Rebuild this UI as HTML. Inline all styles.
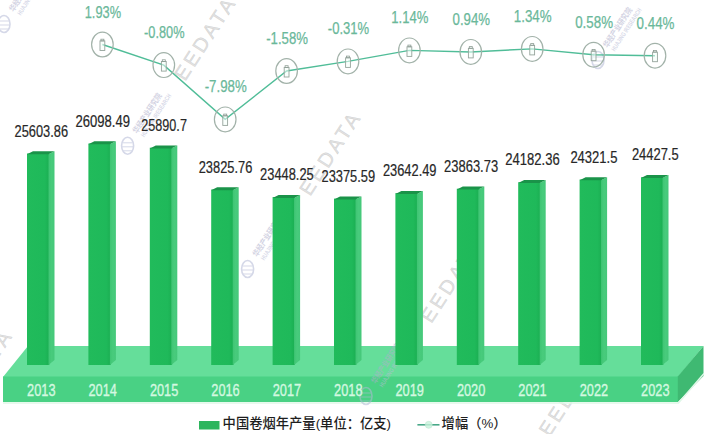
<!DOCTYPE html><html><head><meta charset="utf-8"><style>html,body{margin:0;padding:0;background:#fff;}svg{display:block;}.v{font-family:"Liberation Sans",sans-serif;font-size:15.8px;fill:#272727;stroke:#272727;stroke-width:0.2px;}.p{font-family:"Liberation Sans",sans-serif;font-size:16px;fill:#6ab89a;stroke:#6ab89a;stroke-width:0.25px;}.y{font-family:"Liberation Sans",sans-serif;font-size:16px;fill:#d4f8e0;stroke:#d4f8e0;stroke-width:0.35px;}.lg{font-family:"Liberation Sans","Noto Sans CJK SC",sans-serif;font-size:13.3px;font-weight:500;fill:#1e1e1e;}</style></head><body>
<svg width="705" height="434" viewBox="0 0 705 434">
<defs><linearGradient id="gf" x1="0" y1="0" x2="1" y2="0"><stop offset="0" stop-color="#21bb5b"/><stop offset="0.8" stop-color="#1fb95a"/><stop offset="1" stop-color="#1bae52"/></linearGradient><linearGradient id="gs" x1="0" y1="0" x2="1" y2="0"><stop offset="0" stop-color="#3ec473"/><stop offset="0.5" stop-color="#48cb7c"/><stop offset="1" stop-color="#45c87a"/></linearGradient></defs>
<text x="185.0" y="82.0" transform="rotate(-57 185.0 82.0)" style="font-family:'Liberation Sans',sans-serif;font-size:20px;letter-spacing:3.2px;fill:#a8a8a8;fill-opacity:0.36;stroke:#a8a8a8;stroke-opacity:0.36;stroke-width:0.5px">EEDATA</text>
<text x="310.0" y="196.9" transform="rotate(-57 310.0 196.9)" style="font-family:'Liberation Sans',sans-serif;font-size:20px;letter-spacing:3.2px;fill:#a8a8a8;fill-opacity:0.36;stroke:#a8a8a8;stroke-opacity:0.36;stroke-width:0.5px">EEDATA</text>
<text x="431.3" y="324.3" transform="rotate(-57 431.3 324.3)" style="font-family:'Liberation Sans',sans-serif;font-size:20px;letter-spacing:3.2px;fill:#a8a8a8;fill-opacity:0.36;stroke:#a8a8a8;stroke-opacity:0.36;stroke-width:0.5px">EEDATA</text>
<text x="549.5" y="437.5" transform="rotate(-57 549.5 437.5)" style="font-family:'Liberation Sans',sans-serif;font-size:20px;letter-spacing:3.2px;fill:#a8a8a8;fill-opacity:0.36;stroke:#a8a8a8;stroke-opacity:0.36;stroke-width:0.5px">EEDATA</text>
<text x="-38.5" y="415.0" transform="rotate(-57 -38.5 415.0)" style="font-family:'Liberation Sans',sans-serif;font-size:20px;letter-spacing:3.2px;fill:#a8a8a8;fill-opacity:0.36;stroke:#a8a8a8;stroke-opacity:0.36;stroke-width:0.5px">EEDATA</text>
<polygon points="3,377 678,377 703.5,346 28,346" fill="#65de9a"/>
<rect x="3" y="376.5" width="675" height="25.5" fill="#49d184"/>
<polygon points="677.8,376.5 703.5,346 703.5,376 677.8,402" fill="#3fb972"/>
<polyline points="3,403 678.5,403 704,373.5" fill="none" stroke="#dff7e8" stroke-width="1.5"/>
<g opacity="0.55"><ellipse cx="4.0" cy="24.0" rx="6" ry="8.5" fill="none" stroke="#b3b9d6" stroke-width="1.6"/><path d="M-1.0,21.0 h10 M-1.5,25.0 h11 M-0.5,29.0 h9" stroke="#b3b9d6" stroke-width="1"/><g transform="rotate(-57 4.0 24.0)"><text x="19.0" y="25.5" textLength="46" lengthAdjust="spacingAndGlyphs" style="font-family:'Noto Sans CJK SC',sans-serif;font-size:8px;font-weight:bold;fill:#b0b0cc">华经产业研究院</text><text x="20.0" y="33.5" textLength="50" lengthAdjust="spacingAndGlyphs" style="font-family:'Liberation Sans',sans-serif;font-size:6.5px;font-weight:bold;fill:#b8bcd6">HUAJING IRESEARCH</text></g></g>
<g opacity="0.55"><ellipse cx="127.6" cy="145.8" rx="6" ry="8.5" fill="none" stroke="#b3b9d6" stroke-width="1.6"/><path d="M122.6,142.8 h10 M122.1,146.8 h11 M123.1,150.8 h9" stroke="#b3b9d6" stroke-width="1"/><g transform="rotate(-57 127.6 145.8)"><text x="142.6" y="147.3" textLength="46" lengthAdjust="spacingAndGlyphs" style="font-family:'Noto Sans CJK SC',sans-serif;font-size:8px;font-weight:bold;fill:#b0b0cc">华经产业研究院</text><text x="143.6" y="155.3" textLength="50" lengthAdjust="spacingAndGlyphs" style="font-family:'Liberation Sans',sans-serif;font-size:6.5px;font-weight:bold;fill:#b8bcd6">HUAJING IRESEARCH</text></g></g>
<g opacity="0.55"><ellipse cx="247.6" cy="269.0" rx="6" ry="8.5" fill="none" stroke="#b3b9d6" stroke-width="1.6"/><path d="M242.6,266.0 h10 M242.1,270.0 h11 M243.1,274.0 h9" stroke="#b3b9d6" stroke-width="1"/><g transform="rotate(-57 247.6 269.0)"><text x="262.6" y="270.5" textLength="46" lengthAdjust="spacingAndGlyphs" style="font-family:'Noto Sans CJK SC',sans-serif;font-size:8px;font-weight:bold;fill:#b0b0cc">华经产业研究院</text><text x="263.6" y="278.5" textLength="50" lengthAdjust="spacingAndGlyphs" style="font-family:'Liberation Sans',sans-serif;font-size:6.5px;font-weight:bold;fill:#b8bcd6">HUAJING IRESEARCH</text></g></g>
<g opacity="0.55"><ellipse cx="366.0" cy="396.0" rx="6" ry="8.5" fill="none" stroke="#b3b9d6" stroke-width="1.6"/><path d="M361.0,393.0 h10 M360.5,397.0 h11 M361.5,401.0 h9" stroke="#b3b9d6" stroke-width="1"/><g transform="rotate(-57 366.0 396.0)"><text x="381.0" y="397.5" textLength="46" lengthAdjust="spacingAndGlyphs" style="font-family:'Noto Sans CJK SC',sans-serif;font-size:8px;font-weight:bold;fill:#b0b0cc">华经产业研究院</text><text x="382.0" y="405.5" textLength="50" lengthAdjust="spacingAndGlyphs" style="font-family:'Liberation Sans',sans-serif;font-size:6.5px;font-weight:bold;fill:#b8bcd6">HUAJING IRESEARCH</text></g></g>
<g opacity="0.55"><ellipse cx="598.0" cy="60.0" rx="6" ry="8.5" fill="none" stroke="#b3b9d6" stroke-width="1.6"/><path d="M593.0,57.0 h10 M592.5,61.0 h11 M593.5,65.0 h9" stroke="#b3b9d6" stroke-width="1"/><g transform="rotate(-57 598.0 60.0)"><text x="613.0" y="61.5" textLength="46" lengthAdjust="spacingAndGlyphs" style="font-family:'Noto Sans CJK SC',sans-serif;font-size:8px;font-weight:bold;fill:#b0b0cc">华经产业研究院</text><text x="614.0" y="69.5" textLength="50" lengthAdjust="spacingAndGlyphs" style="font-family:'Liberation Sans',sans-serif;font-size:6.5px;font-weight:bold;fill:#b8bcd6">HUAJING IRESEARCH</text></g></g>
<rect x="27.0" y="153.5" width="22.3" height="211.5" fill="url(#gf)"/>
<polygon points="48.5,154.3 54.5,151.3 54.5,360.0 48.5,365.0" fill="url(#gs)"/>
<polygon points="27.0,154.3 33.0,151.3 54.5,151.3 48.5,154.3" fill="#1a9349"/>
<text class="v" x="41.3" y="136.6" text-anchor="middle" textLength="53.5" lengthAdjust="spacingAndGlyphs">25603.86</text>
<text class="y" x="41.3" y="395.7" text-anchor="middle" textLength="28.4" lengthAdjust="spacingAndGlyphs">2013</text>
<rect x="88.4" y="143.5" width="22.3" height="221.5" fill="url(#gf)"/>
<polygon points="109.9,144.3 115.9,141.3 115.9,360.0 109.9,365.0" fill="url(#gs)"/>
<polygon points="88.4,144.3 94.4,141.3 115.9,141.3 109.9,144.3" fill="#1a9349"/>
<text class="v" x="102.7" y="126.6" text-anchor="middle" textLength="54.4" lengthAdjust="spacingAndGlyphs">26098.49</text>
<text class="y" x="102.7" y="395.7" text-anchor="middle" textLength="28.4" lengthAdjust="spacingAndGlyphs">2014</text>
<rect x="149.8" y="147.7" width="22.3" height="217.3" fill="url(#gf)"/>
<polygon points="171.3,148.5 177.3,145.5 177.3,360.0 171.3,365.0" fill="url(#gs)"/>
<polygon points="149.8,148.5 155.8,145.5 177.3,145.5 171.3,148.5" fill="#1a9349"/>
<text class="v" x="164.1" y="130.8" text-anchor="middle" textLength="45.6" lengthAdjust="spacingAndGlyphs">25890.7</text>
<text class="y" x="164.1" y="395.7" text-anchor="middle" textLength="28.4" lengthAdjust="spacingAndGlyphs">2015</text>
<rect x="211.2" y="189.5" width="22.3" height="175.5" fill="url(#gf)"/>
<polygon points="232.7,190.3 238.7,187.3 238.7,360.0 232.7,365.0" fill="url(#gs)"/>
<polygon points="211.2,190.3 217.2,187.3 238.7,187.3 232.7,190.3" fill="#1a9349"/>
<text class="v" x="225.5" y="172.6" text-anchor="middle" textLength="53.6" lengthAdjust="spacingAndGlyphs">23825.76</text>
<text class="y" x="225.5" y="395.7" text-anchor="middle" textLength="28.4" lengthAdjust="spacingAndGlyphs">2016</text>
<rect x="272.6" y="197.1" width="22.3" height="167.9" fill="url(#gf)"/>
<polygon points="294.1,197.9 300.1,194.9 300.1,360.0 294.1,365.0" fill="url(#gs)"/>
<polygon points="272.6,197.9 278.6,194.9 300.1,194.9 294.1,197.9" fill="#1a9349"/>
<text class="v" x="286.9" y="180.2" text-anchor="middle" textLength="53.6" lengthAdjust="spacingAndGlyphs">23448.25</text>
<text class="y" x="286.9" y="395.7" text-anchor="middle" textLength="28.4" lengthAdjust="spacingAndGlyphs">2017</text>
<rect x="334.0" y="198.6" width="22.3" height="166.4" fill="url(#gf)"/>
<polygon points="355.5,199.4 361.5,196.4 361.5,360.0 355.5,365.0" fill="url(#gs)"/>
<polygon points="334.0,199.4 340.0,196.4 361.5,196.4 355.5,199.4" fill="#1a9349"/>
<text class="v" x="348.3" y="181.7" text-anchor="middle" textLength="53.6" lengthAdjust="spacingAndGlyphs">23375.59</text>
<text class="y" x="348.3" y="395.7" text-anchor="middle" textLength="28.4" lengthAdjust="spacingAndGlyphs">2018</text>
<rect x="395.4" y="193.2" width="22.3" height="171.8" fill="url(#gf)"/>
<polygon points="416.9,194.0 422.9,191.0 422.9,360.0 416.9,365.0" fill="url(#gs)"/>
<polygon points="395.4,194.0 401.4,191.0 422.9,191.0 416.9,194.0" fill="#1a9349"/>
<text class="v" x="409.7" y="176.3" text-anchor="middle" textLength="53.6" lengthAdjust="spacingAndGlyphs">23642.49</text>
<text class="y" x="409.7" y="395.7" text-anchor="middle" textLength="28.4" lengthAdjust="spacingAndGlyphs">2019</text>
<rect x="456.8" y="188.7" width="22.3" height="176.3" fill="url(#gf)"/>
<polygon points="478.3,189.5 484.3,186.5 484.3,360.0 478.3,365.0" fill="url(#gs)"/>
<polygon points="456.8,189.5 462.8,186.5 484.3,186.5 478.3,189.5" fill="#1a9349"/>
<text class="v" x="471.1" y="171.8" text-anchor="middle" textLength="54.0" lengthAdjust="spacingAndGlyphs">23863.73</text>
<text class="y" x="471.1" y="395.7" text-anchor="middle" textLength="28.4" lengthAdjust="spacingAndGlyphs">2020</text>
<rect x="518.2" y="182.3" width="22.3" height="182.7" fill="url(#gf)"/>
<polygon points="539.7,183.1 545.7,180.1 545.7,360.0 539.7,365.0" fill="url(#gs)"/>
<polygon points="518.2,183.1 524.2,180.1 545.7,180.1 539.7,183.1" fill="#1a9349"/>
<text class="v" x="532.5" y="165.4" text-anchor="middle" textLength="54.4" lengthAdjust="spacingAndGlyphs">24182.36</text>
<text class="y" x="532.5" y="395.7" text-anchor="middle" textLength="28.4" lengthAdjust="spacingAndGlyphs">2021</text>
<rect x="579.6" y="179.5" width="22.3" height="185.5" fill="url(#gf)"/>
<polygon points="601.1,180.3 607.1,177.3 607.1,360.0 601.1,365.0" fill="url(#gs)"/>
<polygon points="579.6,180.3 585.6,177.3 607.1,177.3 601.1,180.3" fill="#1a9349"/>
<text class="v" x="593.9" y="162.6" text-anchor="middle" textLength="47.0" lengthAdjust="spacingAndGlyphs">24321.5</text>
<text class="y" x="593.9" y="395.7" text-anchor="middle" textLength="28.4" lengthAdjust="spacingAndGlyphs">2022</text>
<rect x="641.0" y="177.3" width="22.3" height="187.7" fill="url(#gf)"/>
<polygon points="662.5,178.1 668.5,175.1 668.5,360.0 662.5,365.0" fill="url(#gs)"/>
<polygon points="641.0,178.1 647.0,175.1 668.5,175.1 662.5,178.1" fill="#1a9349"/>
<text class="v" x="655.3" y="160.4" text-anchor="middle" textLength="46.7" lengthAdjust="spacingAndGlyphs">24427.5</text>
<text class="y" x="655.3" y="395.7" text-anchor="middle" textLength="28.4" lengthAdjust="spacingAndGlyphs">2023</text>
<polyline points="102.4,44.5 163.8,65.1 225.2,119.4 286.6,71.0 348.0,61.4 409.4,50.4 470.8,51.9 532.2,48.9 593.6,54.7 655.0,55.7" fill="none" stroke="#50bd98" stroke-width="1.45"/>
<ellipse cx="102.4" cy="44.5" rx="10.8" ry="12.4" fill="none" stroke="#a2b2a9" stroke-width="1.2"/>
<rect x="100.0" y="40.9" width="4.8" height="9.6" fill="#f4fffa" fill-opacity="0.55" stroke="#96a49c" stroke-width="0.9"/>
<rect x="100.9" y="39.2" width="3" height="1.7" fill="none" stroke="#8d9d94" stroke-width="0.8"/>
<text class="p" x="102.9" y="17.5" text-anchor="middle" textLength="36.3" lengthAdjust="spacingAndGlyphs">1.93%</text>
<ellipse cx="163.8" cy="65.1" rx="10.8" ry="12.4" fill="none" stroke="#a2b2a9" stroke-width="1.2"/>
<rect x="161.4" y="61.5" width="4.8" height="9.6" fill="#f4fffa" fill-opacity="0.55" stroke="#96a49c" stroke-width="0.9"/>
<rect x="162.3" y="59.8" width="3" height="1.7" fill="none" stroke="#8d9d94" stroke-width="0.8"/>
<text class="p" x="164.3" y="38.1" text-anchor="middle" textLength="40.4" lengthAdjust="spacingAndGlyphs">-0.80%</text>
<ellipse cx="225.2" cy="119.4" rx="10.8" ry="12.4" fill="none" stroke="#a2b2a9" stroke-width="1.2"/>
<rect x="222.8" y="115.8" width="4.8" height="9.6" fill="#f4fffa" fill-opacity="0.55" stroke="#96a49c" stroke-width="0.9"/>
<rect x="223.7" y="114.1" width="3" height="1.7" fill="none" stroke="#8d9d94" stroke-width="0.8"/>
<text class="p" x="225.7" y="92.4" text-anchor="middle" textLength="42.0" lengthAdjust="spacingAndGlyphs">-7.98%</text>
<ellipse cx="286.6" cy="71.0" rx="10.8" ry="12.4" fill="none" stroke="#a2b2a9" stroke-width="1.2"/>
<rect x="284.2" y="67.4" width="4.8" height="9.6" fill="#f4fffa" fill-opacity="0.55" stroke="#96a49c" stroke-width="0.9"/>
<rect x="285.1" y="65.7" width="3" height="1.7" fill="none" stroke="#8d9d94" stroke-width="0.8"/>
<text class="p" x="287.1" y="44.0" text-anchor="middle" textLength="41.8" lengthAdjust="spacingAndGlyphs">-1.58%</text>
<ellipse cx="348.0" cy="61.4" rx="10.8" ry="12.4" fill="none" stroke="#a2b2a9" stroke-width="1.2"/>
<rect x="345.6" y="57.8" width="4.8" height="9.6" fill="#f4fffa" fill-opacity="0.55" stroke="#96a49c" stroke-width="0.9"/>
<rect x="346.5" y="56.1" width="3" height="1.7" fill="none" stroke="#8d9d94" stroke-width="0.8"/>
<text class="p" x="348.5" y="34.4" text-anchor="middle" textLength="41.3" lengthAdjust="spacingAndGlyphs">-0.31%</text>
<ellipse cx="409.4" cy="50.4" rx="10.8" ry="12.4" fill="none" stroke="#a2b2a9" stroke-width="1.2"/>
<rect x="407.0" y="46.8" width="4.8" height="9.6" fill="#f4fffa" fill-opacity="0.55" stroke="#96a49c" stroke-width="0.9"/>
<rect x="407.9" y="45.1" width="3" height="1.7" fill="none" stroke="#8d9d94" stroke-width="0.8"/>
<text class="p" x="409.9" y="23.4" text-anchor="middle" textLength="37.1" lengthAdjust="spacingAndGlyphs">1.14%</text>
<ellipse cx="470.8" cy="51.9" rx="10.8" ry="12.4" fill="none" stroke="#a2b2a9" stroke-width="1.2"/>
<rect x="468.4" y="48.3" width="4.8" height="9.6" fill="#f4fffa" fill-opacity="0.55" stroke="#96a49c" stroke-width="0.9"/>
<rect x="469.3" y="46.6" width="3" height="1.7" fill="none" stroke="#8d9d94" stroke-width="0.8"/>
<text class="p" x="471.3" y="24.9" text-anchor="middle" textLength="37.5" lengthAdjust="spacingAndGlyphs">0.94%</text>
<ellipse cx="532.2" cy="48.9" rx="10.8" ry="12.4" fill="none" stroke="#a2b2a9" stroke-width="1.2"/>
<rect x="529.8" y="45.3" width="4.8" height="9.6" fill="#f4fffa" fill-opacity="0.55" stroke="#96a49c" stroke-width="0.9"/>
<rect x="530.7" y="43.6" width="3" height="1.7" fill="none" stroke="#8d9d94" stroke-width="0.8"/>
<text class="p" x="532.7" y="21.9" text-anchor="middle" textLength="37.8" lengthAdjust="spacingAndGlyphs">1.34%</text>
<ellipse cx="593.6" cy="54.7" rx="10.8" ry="12.4" fill="none" stroke="#a2b2a9" stroke-width="1.2"/>
<rect x="591.2" y="51.1" width="4.8" height="9.6" fill="#f4fffa" fill-opacity="0.55" stroke="#96a49c" stroke-width="0.9"/>
<rect x="592.1" y="49.4" width="3" height="1.7" fill="none" stroke="#8d9d94" stroke-width="0.8"/>
<text class="p" x="594.1" y="27.7" text-anchor="middle" textLength="37.8" lengthAdjust="spacingAndGlyphs">0.58%</text>
<ellipse cx="655.0" cy="55.7" rx="10.8" ry="12.4" fill="none" stroke="#a2b2a9" stroke-width="1.2"/>
<rect x="652.6" y="52.1" width="4.8" height="9.6" fill="#f4fffa" fill-opacity="0.55" stroke="#96a49c" stroke-width="0.9"/>
<rect x="653.5" y="50.4" width="3" height="1.7" fill="none" stroke="#8d9d94" stroke-width="0.8"/>
<text class="p" x="655.5" y="28.7" text-anchor="middle" textLength="37.9" lengthAdjust="spacingAndGlyphs">0.44%</text>
<rect x="199" y="421" width="20.5" height="8.5" fill="#2db55d"/>
<text class="lg" x="222.6" y="428.2">中国卷烟年产量(单位：亿支)</text>
<line x1="417.4" y1="424.8" x2="439.5" y2="424.8" stroke="#48a888" stroke-width="1.6"/>
<circle cx="428.7" cy="424.8" r="3.5" fill="#c9f2dc" fill-opacity="0.8" stroke="#bfe6d2" stroke-width="0.6"/>
<text class="lg" x="441.6" y="428.2">增幅（%）</text>
</svg></body></html>
